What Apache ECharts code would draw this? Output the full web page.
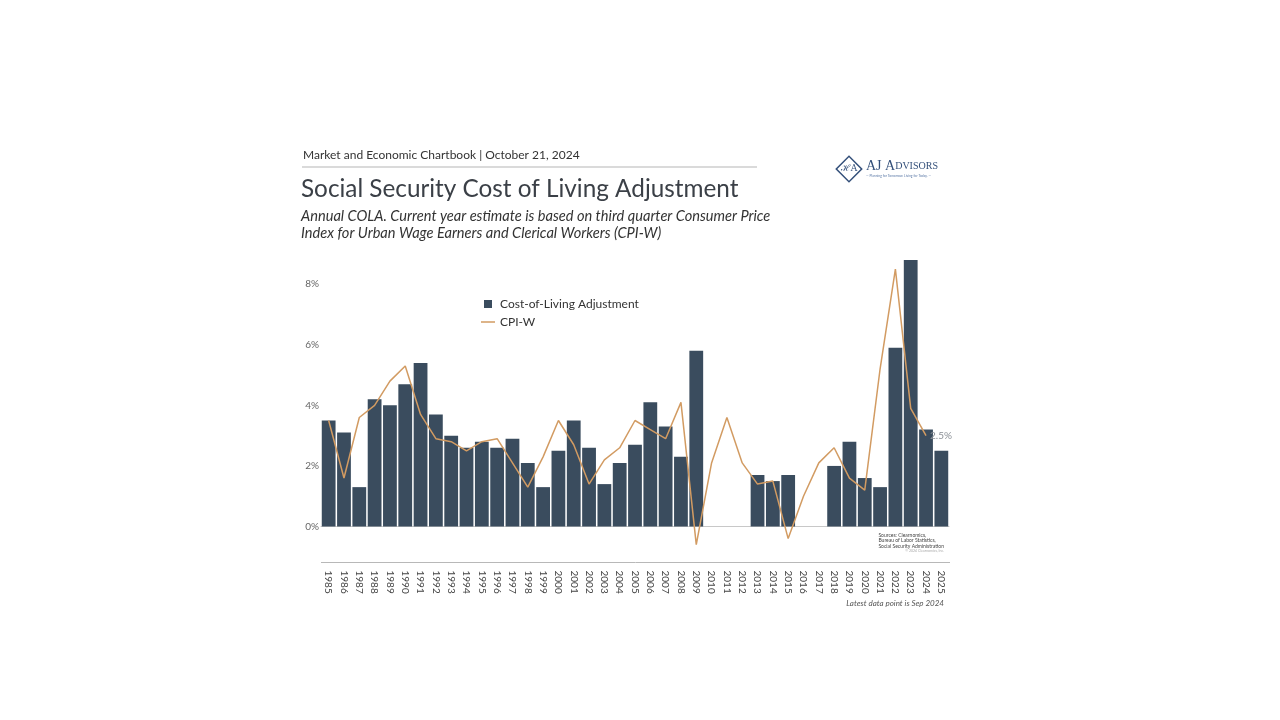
<!DOCTYPE html>
<html>
<head>
<meta charset="utf-8">
<script src="https://cdn.jsdelivr.net/npm/echarts@6/dist/echarts.min.js"></script>
<style>
html,body{margin:0;padding:0;background:#fff;}
#c{width:1280px;height:720px;}
</style>
</head>
<body>
<div id="c"></div>
<script>
const years = ['1985','1986','1987','1988','1989','1990','1991','1992','1993','1994','1995','1996','1997','1998','1999','2000','2001','2002','2003','2004','2005','2006','2007','2008','2009','2010','2011','2012','2013','2014','2015','2016','2017','2018','2019','2020','2021','2022','2023','2024','2025'];
const colaValues = [3.5,3.1,1.3,4.2,4.0,4.7,5.4,3.7,3.0,2.6,2.8,2.6,2.9,2.1,1.3,2.5,3.5,2.6,1.4,2.1,2.7,4.1,3.3,2.3,5.8,0,0,0,1.7,1.5,1.7,0,0,2.0,2.8,1.6,1.3,5.9,8.8,3.2,2.5];
const cpiwValues = [3.5,1.6,3.6,4.0,4.8,5.3,3.7,2.9,2.8,2.5,2.8,2.9,2.1,1.3,2.3,3.5,2.7,1.4,2.2,2.6,3.5,3.2,2.9,4.1,-0.6,2.1,3.6,2.1,1.4,1.5,-0.4,1.0,2.1,2.6,1.6,1.2,5.2,8.5,3.9,3.0,null];
const yTicks = [0,2,4,6,8];
const endLabel = '2.5%';
const seriesNames = ['Cost-of-Living Adjustment','CPI-W'];

const FONT = 'Lato, "Open Sans", sans-serif';
const BAR = '#3a4c5e';
const LINE = '#d29b62';

const chart = echarts.init(document.getElementById('c'));
chart.setOption({
  backgroundColor:'#fff',
  animation:false,
  textStyle:{fontFamily:FONT},
  grid:{left:321, right:331, top:260, bottom:193.5, containLabel:false},
  legend:{
    orient:'vertical', left:476, top:293, itemGap:6, itemWidth:14, itemHeight:8,
    textStyle:{fontSize:12, color:'#333', fontFamily:FONT},
    data:[
      {name:seriesNames[0], icon:'path://M0,0h1v1h-1z'},
      {name:seriesNames[1], icon:'path://M0,0h14v1.5h-14z'}
    ]
  },
  xAxis:{
    type:'category', data:years,
    axisLine:{show:true, lineStyle:{color:'#c8c8c8', width:1}},
    axisTick:{show:false},
    axisLabel:{rotate:-90, margin:44, fontSize:10, color:'#444', fontFamily:FONT, interval:0}
  },
  yAxis:{
    type:'value', min:0, max:8.8, interval:2,
    splitLine:{show:false}, axisLine:{show:false}, axisTick:{show:false},
    axisLabel:{showMaxLabel:false, margin:2, fontSize:10, color:'#666', fontFamily:FONT,
      formatter:v=> yTicks.indexOf(v)>=0 ? v+'%' : ''}
  },
  series:[
    {name:seriesNames[0], type:'bar', data:colaValues, barCategoryGap:'10%',
     itemStyle:{color:BAR}, z:2},
    {name:seriesNames[1], type:'line', data:cpiwValues, symbol:'none', showSymbol:false, clip:false, z:3,
     lineStyle:{color:LINE, width:1.5}, itemStyle:{color:LINE},
     endLabel:{show:true, formatter:endLabel, color:'#8a8f95', fontSize:10, fontFamily:FONT, distance:4}}
  ],
  graphic:[
    {type:'text', left:303, top:149, style:{text:'Market and Economic Chartbook | October 21, 2024', fontSize:12, fill:'#333', fontFamily:FONT}},
    {type:'line', shape:{x1:302, y1:167, x2:757, y2:167}, style:{stroke:'#b5b5b5', lineWidth:1}},
    {type:'text', left:301, top:177, style:{text:'Social Security Cost of Living Adjustment', fontSize:24.3, fill:'#3b4047', fontFamily:FONT}},
    {type:'text', left:301, top:208, style:{text:'Annual COLA. Current year estimate is based on third quarter Consumer Price\nIndex for Urban Wage Earners and Clerical Workers (CPI-W)', fontSize:14.6, lineHeight:17, fontStyle:'italic', fill:'#333', fontFamily:FONT}},
    // logo
    {type:'rect', x:849, y:169, shape:{x:-9, y:-9, width:18, height:18}, rotation:Math.PI/4, style:{fill:'#fff', stroke:'#34507a', lineWidth:1.5}},
    {type:'text', x:849, y:169, style:{text:'ℋA', fontSize:9, fill:'#34507a', fontFamily:'"DejaVu Serif", serif', align:'center', verticalAlign:'middle'}},
    {type:'text', left:866, top:159, style:{rich:{a:{fontSize:14, fill:'#34507a', fontFamily:'"Liberation Serif", serif'}, b:{fontSize:10, fill:'#34507a', fontFamily:'"Liberation Serif", serif'}}, text:'{a|AJ A}{b|DVISORS}'}},
    {type:'text', left:866, top:174, style:{text:'— Planning for Tomorrow. Living for Today. —', fontSize:3.3, fill:'#5a78a6', fontFamily:FONT}},
    // sources
    {type:'text', right:336, top:533, style:{text:'Sources: Clearnomics,\nBureau of Labor Statistics,\nSocial Security Administration', fontSize:5, lineHeight:5.2, fill:'#444', align:'right', fontFamily:FONT}},
    {type:'text', right:336, top:549, style:{text:'© 2024 Clearnomics, Inc.', fontSize:3.5, fill:'#aaa', align:'right', fontFamily:FONT}},
    {type:'line', shape:{x1:321, y1:562.5, x2:950, y2:562.5}, style:{stroke:'#b8b8b8', lineWidth:1}},
    {type:'text', right:336, top:599, style:{text:'Latest data point is Sep 2024', fontSize:8, fontStyle:'italic', fill:'#555', align:'right', fontFamily:FONT}}
  ]
});
</script>
</body>
</html>
